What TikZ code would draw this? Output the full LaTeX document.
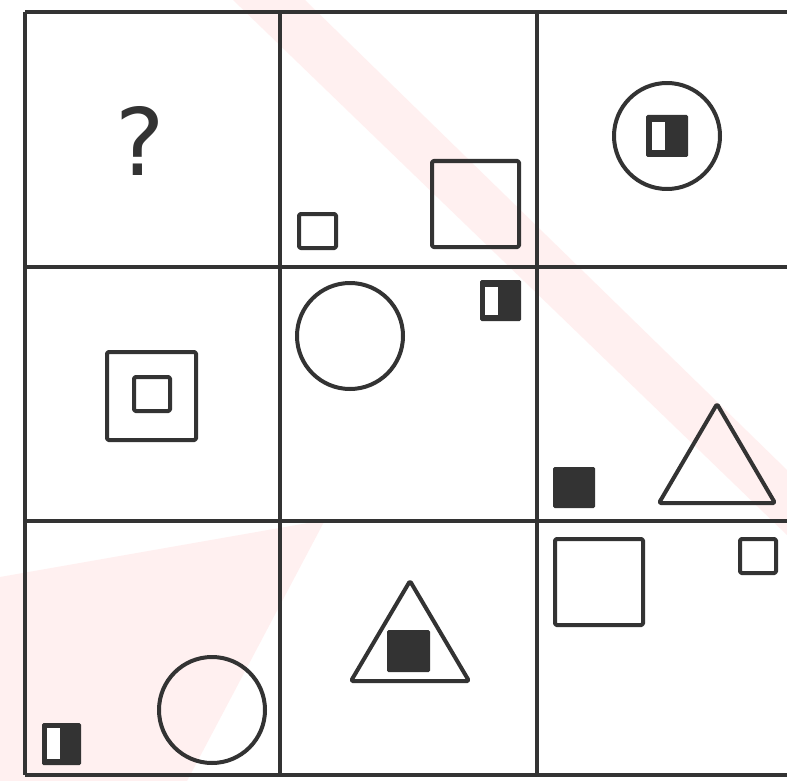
\documentclass[tikz,border=0pt]{standalone}
\usepackage{fontspec}
\newfontfamily\qfont{DejaVu Sans}
\definecolor{ink}{RGB}{51,51,51}
\definecolor{wm}{RGB}{255,240,240}
\begin{document}
\begin{tikzpicture}[x=1pt,y=-1pt,
  gridline/.style={draw=ink,line width=4.2pt},
  outl/.style={draw=ink,line width=4pt,line join=round,rounded corners=1.5pt},
  blk/.style={fill=ink,rounded corners=1.5pt},
  hole/.style={fill=white}]
\useasboundingbox (0,0) rectangle (787,781);
\fill[white] (0,0) rectangle (787,781);
% faint watermark
\fill[wm] (233,0) -- (305,0) -- (787,470) -- (787,535) -- cycle;
\fill[wm] (0,577) -- (325,520) -- (187,781) -- (0,781) -- cycle;
% grid
\draw[gridline] (25,12) -- (787,12);
\draw[gridline] (25,267) -- (787,267);
\draw[gridline] (25,521) -- (787,521);
\draw[gridline] (25,775) -- (787,775);
\draw[gridline] (25,12) -- (25,775);
\draw[gridline] (280,12) -- (280,775);
\draw[gridline] (537,12) -- (537,775);
% cell 1,1
\node[inner sep=0pt,text=ink,font=\qfont\fontsize{93}{93}\selectfont] (q) at (140.5,141) {?};
% cell 1,2
\draw[outl] (299,214) rectangle (336,248);
\draw[outl] (432,161) rectangle (519,247);
% cell 1,3
\draw[outl] (667,136) circle[radius=53];
\fill[blk] (646,115) rectangle (688,157);
\fill[hole] (652,122) rectangle (665,150);
% cell 2,1
\draw[outl] (107,352) rectangle (196,440);
\draw[outl] (134,377) rectangle (170,411);
% cell 2,2
\draw[outl] (350,336) circle[radius=53];
\fill[blk] (480,280) rectangle (521,321);
\fill[hole] (485,287) rectangle (498,315);
% cell 2,3
\fill[blk] (553,467) rectangle (595,508);
\draw[outl] (717,404) -- (775,503) -- (659,503) -- cycle;
% cell 3,1
\fill[blk] (42,723) rectangle (81,765);
\fill[hole] (47,728) rectangle (60,759);
\draw[outl] (212,710) circle[radius=53];
% cell 3,2
\draw[outl] (410,581) -- (469,681) -- (351,681) -- cycle;
\fill[blk] (387,630) rectangle (430,672);
% cell 3,3
\draw[outl] (555,539) rectangle (643,625);
\draw[outl] (740,539) rectangle (776,573);
\end{tikzpicture}
\end{document}
